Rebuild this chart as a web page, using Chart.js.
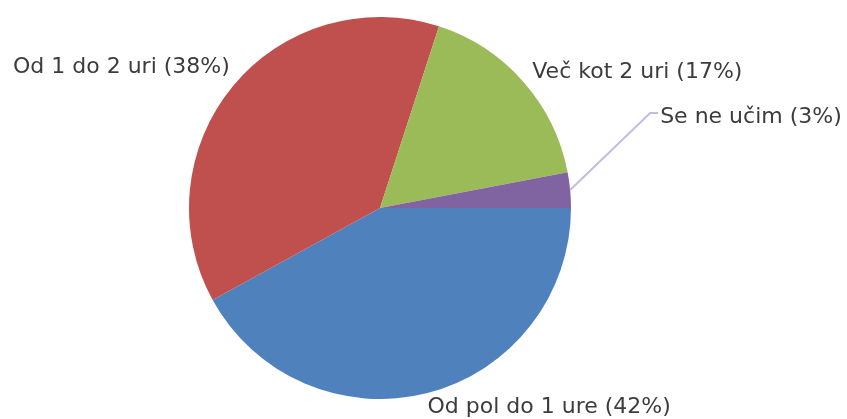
<!DOCTYPE html>
<html>
<head>
<meta charset="utf-8">
<script src="https://cdn.jsdelivr.net/npm/chart.js@4/dist/chart.umd.min.js"></script>
<style>
html,body{margin:0;padding:0;background:#fff;}
#wrap{width:847px;height:419px;}
</style>
</head>
<body>
<div id="wrap"><canvas id="c" width="847" height="419"></canvas></div>
<script>
const categories = ["Od pol do 1 ure", "Od 1 do 2 uri", "Več kot 2 uri", "Se ne učim"];
const percentages = [42, 38, 17, 3];
const colors = ["#4F81BD", "#C0504D", "#9BBB59", "#8064A2"];

// label placement styles relative to each slice's outer mid point
const labelStyles = [
  {align: "left", dx: 0, dy: 20},
  {align: "right", dx: -3, dy: -13},
  {align: "left", dx: 9, dy: -4},
  {align: "left", leader: true, ex: 80, ey: -77, hx: 8, dx: 10, dy: 10}
];

const labelPlugin = {
  id: "pieLabels",
  afterDatasetsDraw(chart) {
    const ctx = chart.ctx;
    const meta = chart.getDatasetMeta(0);
    ctx.save();
    ctx.font = "22px 'DejaVu Sans'";
    ctx.fillStyle = "#3c3c3c";
    ctx.textBaseline = "alphabetic";
    meta.data.forEach((arc, i) => {
      const p = arc.getProps(["x","y","startAngle","endAngle","outerRadius"], true);
      const mid = (p.startAngle + p.endAngle) / 2;
      const ax = p.x + Math.cos(mid) * p.outerRadius;
      const ay = p.y + Math.sin(mid) * p.outerRadius;
      const s = labelStyles[i];
      const text = categories[i] + " (" + percentages[i] + "%)";
      let tx, ty;
      if (s.leader) {
        const exx = ax + s.ex, eyy = ay + s.ey;
        ctx.strokeStyle = "#c9b8e3";
        ctx.lineWidth = 2;
        ctx.beginPath();
        ctx.moveTo(ax, ay);
        ctx.lineTo(exx, eyy);
        ctx.lineTo(exx + s.hx, eyy);
        ctx.stroke();
        tx = exx + s.dx; ty = eyy + s.dy;
      } else {
        tx = ax + s.dx; ty = ay + s.dy;
      }
      ctx.textAlign = s.align;
      ctx.fillText(text, tx, ty);
    });
    ctx.restore();
  }
};

new Chart(document.getElementById("c"), {
  type: "pie",
  data: {
    labels: categories,
    datasets: [{
      data: percentages,
      backgroundColor: colors,
      borderWidth: 0
    }]
  },
  options: {
    responsive: false,
    animation: false,
    rotation: 90,
    layout: {padding: {left: 189, right: 276, top: 17, bottom: 20}},
    plugins: {legend: {display: false}, tooltip: {enabled: false}}
  },
  plugins: [labelPlugin]
});
</script>
</body>
</html>
